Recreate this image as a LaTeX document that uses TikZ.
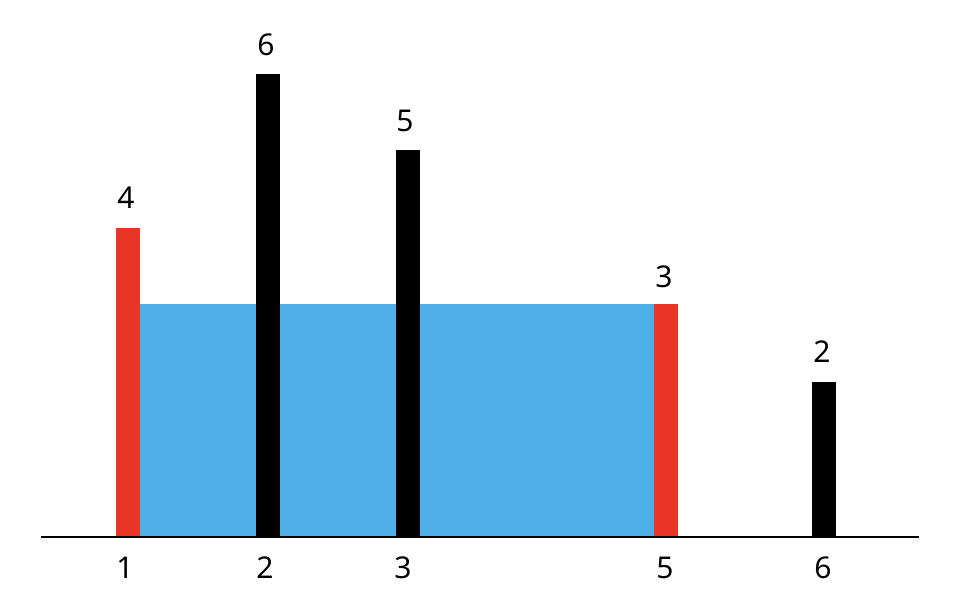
\documentclass[tikz,border=0pt]{standalone}
\usepackage{fontspec}
\setmainfont{Noto Sans}
\definecolor{barred}{RGB}{233,53,38}
\definecolor{waterblue}{RGB}{77,174,232}
\begin{document}
\begin{tikzpicture}[x=1pt,y=1pt,
  lbl/.style={inner sep=0pt,font=\fontsize{30}{36}\selectfont},
  redbar/.style={fill=barred},
  blackbar/.style={fill=black}]
\useasboundingbox (0,0) rectangle (960,608);
% water
\fill[waterblue] (140,71) rectangle (654,304);
% bars
\fill[redbar] (116,71) rectangle (140,380);
\fill[blackbar] (256,71) rectangle (280,534);
\fill[blackbar] (396,71) rectangle (420,458);
\fill[redbar] (654,71) rectangle (678,304);
\fill[blackbar] (812,71) rectangle (836,226);
% baseline
\coordinate (bl) at (41,71);
\coordinate (br) at (919,71);
\draw[line width=2pt] (bl) -- (br);
% top labels
\node[lbl] (t1) at (126,410) {4};
\node[lbl] (t2) at (266,563) {6};
\node[lbl] (t3) at (405,487) {5};
\node[lbl] (t5) at (664,331) {3};
\node[lbl] (t6) at (822,256) {2};
% bottom labels
\node[lbl] (b1) at (125,40) {1};
\node[lbl] (b2) at (265,40) {2};
\node[lbl] (b3) at (403,40) {3};
\node[lbl] (b5) at (665,40) {5};
\node[lbl] (b6) at (823,40) {6};
\end{tikzpicture}
\end{document}
